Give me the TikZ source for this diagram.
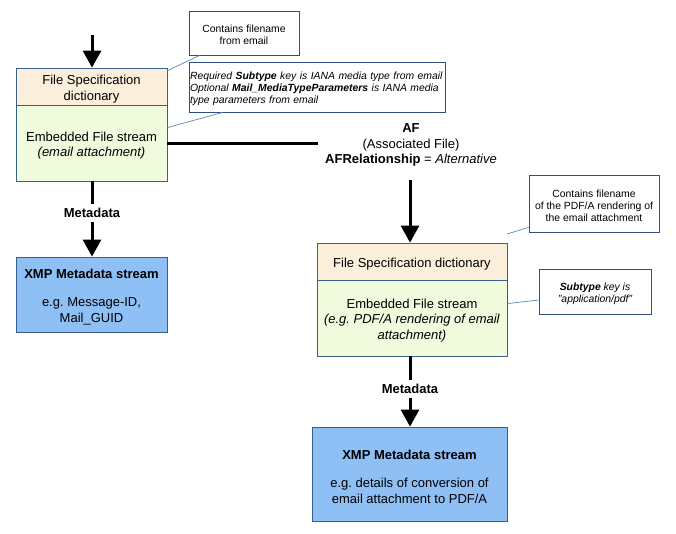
\documentclass[tikz,border=0pt]{standalone}
\usepackage{fontspec}
\setmainfont{Liberation Sans}
\usetikzlibrary{arrows.meta,calc}
\definecolor{bordc}{HTML}{3A5F8C}
\definecolor{calloutc}{HTML}{2E4F7F}
\definecolor{leaderc}{HTML}{5B87B5}
\definecolor{beige}{HTML}{FBEEDB}
\definecolor{lgreen}{HTML}{F0FADC}
\definecolor{xmpblue}{HTML}{8EBFF5}
\tikzset{
  mainfont/.style={font=\fontsize{13}{15.5}\selectfont},
  part/.style={draw=bordc, line width=0.8pt, inner sep=0pt},
  headpart/.style={part, fill=beige},
  streampart/.style={part, fill=lgreen},
  xmpbox/.style={part, fill=xmpblue},
  boxtext/.style={mainfont, align=center, inner sep=0pt},
  callout/.style={draw=calloutc, line width=0.8pt, fill=white, inner sep=0pt},
  callouttext/.style={font=\fontsize{10.4}{12}\selectfont, inner sep=0pt},
  leader/.style={draw=leaderc, line width=0.7pt},
  bigarrow/.style={line width=3pt, -{Triangle[width=18pt,length=17pt]}},
  thickline/.style={line width=3pt},
  lbl/.style={mainfont, align=center, inner sep=4pt}
}
\begin{document}
\begin{tikzpicture}[x=1pt,y=-1pt]
\useasboundingbox (0,0) rectangle (676,533);
% left stack
\node[headpart, minimum width=151pt, minimum height=37pt] (ltop) at (91.5,86.5) {};
\node[boxtext] (ltopt) at ([yshift=-2.5pt]ltop.center) {File Specification\\dictionary};
\node[streampart, minimum width=151pt, minimum height=76pt] (lbot) at (91.5,143) {};
\node[boxtext] (lbott) at ([yshift=-2.5pt]lbot.center) {Embedded File stream\\\textit{(email attachment)}};
\node[xmpbox, minimum width=151pt, minimum height=75pt] (lxmp) at (91.5,294.5) {};
\node[boxtext] (lxmpt) at ([yshift=-2.5pt]lxmp.center) {\textbf{XMP Metadata stream}\\[13pt]e.g.\ Message-ID,\\Mail\_GUID};
\node[lbl] (meta1) at (92,213) {\textbf{Metadata}};
\coordinate (lin) at (92,35);
\draw[bigarrow] (lin) -- (lin |- ltop.north);
\draw[thickline] (lbot.south -| meta1) -- (meta1.north);
\draw[bigarrow] (meta1.south) -- (meta1 |- lxmp.north);
% callouts left
\node[callout, minimum width=110pt, minimum height=44pt] (c1) at (244,33) {};
\node[callouttext, align=center] (c1t) at ([yshift=-2pt]c1.center) {Contains filename\\from email};
\node[callout, minimum width=256pt, minimum height=50pt] (c2) at (317,87) {};
\node[callouttext, align=left, text width=254pt] (c2t) at ([yshift=-2pt]c2.center) {\itshape Required \textbf{Subtype} key is IANA media type from email\\\itshape Optional \textbf{Mail\_MediaTypeParameters} is IANA media\\\itshape type parameters from email};
\draw[leader] ([xshift=11pt]c1.south west) -- ([yshift=-3pt]ltop.north east);
\draw[leader] ([xshift=34pt]c2.south west) -- ([yshift=-23pt]lbot.north east);
% AF relation
\coordinate (afend) at (318,143);
\draw[thickline] (lbot.east) -- (afend);
\node[lbl, inner sep=1pt] (af) at (411,145) {\textbf{AF}\\(Associated File)\\\textbf{AFRelationship} = \textit{Alternative}};
\coordinate (rin) at (410,180);
% right stack
\node[headpart, minimum width=190pt, minimum height=37pt] (rtop) at (412,261.5) {};
\node[boxtext] (rtopt) at ([yshift=-2.5pt]rtop.center) {File Specification dictionary};
\node[streampart, minimum width=190pt, minimum height=76pt] (rbot) at (412,318) {};
\node[boxtext] (rbott) at ([yshift=-2.5pt]rbot.center) {Embedded File stream\\\textit{(e.g.\ PDF/A rendering of email}\\\textit{attachment)}};
\node[xmpbox, minimum width=195pt, minimum height=94pt] (rxmp) at (409.5,474) {};
\node[boxtext] (rxmpt) at ([yshift=-2.5pt]rxmp.center) {\textbf{XMP Metadata stream}\\[13pt]e.g.\ details of conversion of\\email attachment to PDF/A};
\node[lbl] (meta2) at (410,389) {\textbf{Metadata}};
\draw[bigarrow] (rin) -- (rin |- rtop.north);
\draw[thickline] (rbot.south -| meta2) -- (meta2.north);
\draw[bigarrow] (meta2.south) -- (meta2 |- rxmp.north);
% callouts right
\node[callout, minimum width=130pt, minimum height=57pt] (c3) at (594,203.5) {};
\node[callouttext, align=center] (c3t) at ([yshift=-2pt]c3.center) {Contains filename\\of the PDF/A rendering of\\the email attachment};
\node[callout, minimum width=112pt, minimum height=45pt] (c4) at (595,291.5) {};
\node[callouttext, align=center] (c4t) at ([yshift=-2pt]c4.center) {\itshape\textbf{Subtype} key is\\\itshape "application/pdf"};
\coordinate (c3end) at (507,234);
\draw[leader] ([yshift=5pt]c3.south west) -- (c3end);
\draw[leader] ([yshift=-8.5pt]c4.west) -- ([yshift=-24pt]rbot.north east);
\end{tikzpicture}
\end{document}
